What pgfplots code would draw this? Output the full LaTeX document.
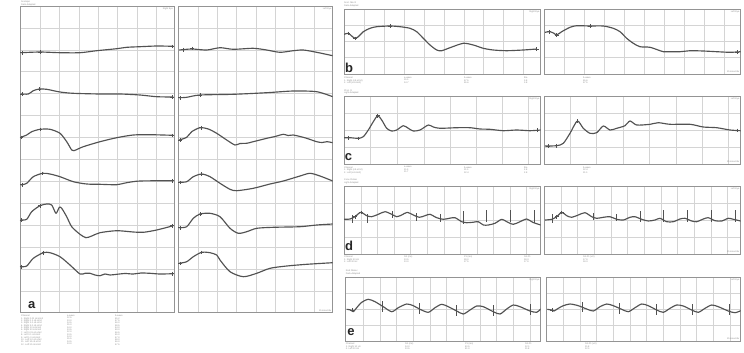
\documentclass[border=0pt]{standalone}
\usepackage{pgfplots}
\pgfplotsset{compat=1.18}
\usepackage{fontspec}
\setmainfont{Liberation Sans}
\definecolor{gridc}{gray}{0.83}
\definecolor{boxc}{gray}{0.58}
\definecolor{trc}{gray}{0.32}
\definecolor{txtc}{gray}{0.55}
\tikzset{
  trace/.style={draw=trc, line width=1.15pt, no markers, smooth, tension=0.45, line join=round},
  cur/.style={only marks, mark=+, mark size=1.8pt, draw=trc, mark options={line width=0.5pt}},
  bars/.style={draw=trc, line width=0.6pt, no markers},
  tiny/.style={font=\fontsize{2.3}{2.35}\selectfont, text=txtc, inner sep=0pt, align=left},
  lab/.style={font=\fontsize{13}{13}\selectfont\bfseries, text=black!85, inner sep=0pt}
}
\pgfplotsset{erg/.style={scale only axis, anchor=north west, y dir=reverse,
  axis line style={draw=boxc, line width=0.6pt},
  xmajorgrids, ymajorgrids, major grid style={draw=gridc, line width=0.5pt},
  major tick length=0pt, xticklabels={}, yticklabels={}, clip=true,
  unbounded coords=jump}}
\begin{document}
\begin{tikzpicture}
\path[use as bounding box] (0,0) rectangle (744pt,-353pt);
% ---------------- panel a, left ----------------
\begin{axis}[erg, at={(20.7pt,-6pt)}, width=154pt, height=306.7pt,
  xmin=20.7, xmax=174.7, ymin=6, ymax=312.7,
  xtick={40,59.3,79,98.3,117.7,137,156.3},
  ytick={28,50,71.7,93.5,115.5,137.3,159.2,181,203,225,247,269,291}]
\addplot[trace] coordinates {(20.7,52.7)(40,52)(60,52.7)(80,52.7)(96.7,50.7)(116.7,48.7)(126.7,47.3)(140,46.7)(156.7,46)(173.3,46.3)};
\addplot[trace] coordinates {(20.7,94)(28.3,94)(33.3,90.7)(39.3,89)(46.7,89.3)(60,92)(73.3,93.3)(100,94)(120,94)(140,95)(156.7,96.7)(173.3,97)};
\addplot[trace] coordinates {(20.7,137.3)(26.7,135)(31.7,131.7)(40,129.3)(50,129.3)(60,133.3)(66.7,141.7)(71.7,150)(74,150.7)(83.3,146.7)(100,141.7)(116.7,137.7)(133.3,135)(150,134.7)(173.3,135.3)};
\addplot[trace] coordinates {(20.7,185)(26.7,183.3)(33.3,176.7)(42.7,173.3)(50,174)(60,176.7)(73.3,181.7)(86.7,184)(100,184.3)(116.7,184.7)(126.7,182.7)(140,181)(173.3,180.7)};
\addplot[trace] coordinates {(20.7,220)(26.7,219.3)(31.7,211.7)(40,205.7)(46.7,204)(51.7,205)(56,213.3)(59.3,207.3)(61.7,208.3)(66.7,216.7)(71.7,226.7)(80,234.3)(86,237.7)(91.7,236)(100,232.7)(116.7,230.7)(133.3,232)(143.3,232.3)(156.7,230)(173.3,225.7)};
\addplot[trace] coordinates {(20.7,266.7)(26.7,266)(33.3,258.3)(43.3,252.7)(50,252.7)(60,256.7)(70,265)(80,274)(85,273.3)(90,273.3)(95,275)(100,275.7)(105,274)(110,275)(116.7,274.3)(125,273.5)(133.3,274)(141,273)(150,273.3)(160,274)(173.3,273.7)};
\addplot[cur] coordinates {(22,52.7)(40,52)(22,94)(39.3,89)(21.5,137.3)(40,129.3)(22,184.7)(42.7,173.3)(21.5,220)(40,205.7)(21.5,266.7)(43.3,252.7)(172,46.3)(172,97)(172,135.3)(172,180.7)(172,225.7)(172,273.7)};
\end{axis}
% ---------------- panel a, right ----------------
\begin{axis}[erg, at={(178pt,-6pt)}, width=154.7pt, height=306.7pt,
  xmin=178, xmax=332.7, ymin=6, ymax=312.7,
  xtick={198,217.3,236.7,256,275.3,294.7,314},
  ytick={28,50,71.7,93.5,115.5,137.3,159.2,181,203,225,247,269,291}]
\addplot[trace] coordinates {(179.3,50)(191.7,49)(206.7,50)(220,47.7)(233.3,49.3)(253.3,48.3)(266.7,50)(280,52.3)(293.3,50.7)(303.3,50)(316.7,52.3)(332.7,55.7)};
\addplot[trace] coordinates {(179.3,97.7)(186.7,97.3)(200,95)(233.3,94.3)(266.7,92.7)(293.3,91)(316.7,91.7)(332.7,96.7)};
\addplot[trace] coordinates {(179.3,140)(186.7,137.3)(191.7,131.7)(200,127.7)(208.3,129)(216.7,133.3)(226.7,140)(235,145)(240,143.5)(246.7,143.3)(252,142)(258,140.5)(266.7,138.3)(275,136.5)(283.3,134.3)(288,135.5)(293.3,135)(300,136.5)(306.7,138.3)(316.7,141.7)(322,142.5)(327,141.7)(332.7,142.7)};
\addplot[trace] coordinates {(179.3,182.3)(186.7,181.7)(193.3,176.7)(201.7,174)(210,176.7)(220,183.3)(230,189.3)(236.7,190.7)(253.3,188.3)(270,184)(283.3,181)(300,176)(310,173.3)(320,176)(332.7,181)};
\addplot[trace] coordinates {(179.3,227.7)(186.7,226.7)(193.3,218.3)(200,214)(210,213.3)(220,216.7)(230,228.3)(238.3,233.3)(246.7,231.7)(256.7,228.3)(273.3,227.3)(300,226.7)(316.7,225)(332.7,224)};
\addplot[trace] coordinates {(179.3,263.3)(186.7,261.7)(193.3,256.7)(201.7,252.3)(210,252.7)(216.7,255)(220,260)(230,271.7)(243.3,276.7)(256.7,273.3)(270,268.3)(286.7,266)(306.7,264.3)(332.7,262.7)};
\addplot[cur] coordinates {(183,49.7)(192,48.5)(180,97.7)(200,95)(180,140)(201,127.7)(180,182.3)(201.7,174)(180,227.7)(200,214)(180,263.3)(201.7,252.3)};
\end{axis}
% ---------------- panel b ----------------
\begin{axis}[erg, at={(344pt,-9pt)}, width=196.7pt, height=65pt,
  xmin=344, xmax=540.7, ymin=9, ymax=74,
  xtick={364.3,384.3,404,424,444,464,483.7,503.3,523.3}, ytick={25,41.3,57.3}]
\addplot[trace] coordinates {(344,34.3)(348.3,33.3)(351.7,36)(355,38.3)(358.3,36.7)(363.3,31.7)(370,28.3)(376.7,26.7)(390,26)(400,26.7)(410,28.3)(416.7,31.7)(423.3,38.3)(430,45)(436.7,50)(441.7,50.7)(450,47.7)(463.3,43.3)(473.3,45)(483.3,48.3)(493.3,50)(506.7,50.7)(523.3,50)(536.7,49)};
\addplot[cur] coordinates {(348,33.3)(355,38.3)(390,26)(536.7,49)};
\end{axis}
\begin{axis}[erg, at={(544.3pt,-9pt)}, width=196.4pt, height=65pt,
  xmin=544.3, xmax=740.7, ymin=9, ymax=74,
  xtick={564,584,604,624,644,664,684,704,724}, ytick={25,41.3,57.3}]
\addplot[trace] coordinates {(545,32.3)(550,31.7)(554,33.3)(556.7,35)(561.7,31.7)(570,27.3)(576.7,25.7)(590,26)(603.3,26)(613.3,28.3)(620,31.7)(626.7,38.3)(633.3,43.3)(640,46.7)(650,47.3)(660,50.7)(663.3,51.7)(680,51.7)(690,50.7)(703.3,51)(716.7,51.7)(730,52.3)(740.7,51.7)};
\addplot[cur] coordinates {(549,31.7)(556.7,35)(590,26)(737,52)};
\end{axis}
% ---------------- panel c ----------------
\begin{axis}[erg, at={(344pt,-96.7pt)}, width=196.7pt, height=67.6pt,
  xmin=344, xmax=540.7, ymin=96.7, ymax=164.3,
  xtick={370.7,397.3,424,450.7,476.7,502.7,528.7}, ytick={113.3,130,147.3}]
\addplot[trace] coordinates {(344,137.7)(350,137.7)(358.3,138.3)(363.3,136.7)(368.3,130)(373.3,121.7)(377.7,115.7)(381.7,120)(386.7,128.3)(391.7,131)(396.7,130)(403.3,125.7)(408.3,128.3)(413.3,131)(420,130)(428.3,125)(433.3,127)(440,128.3)(456.7,127.7)(470,127.7)(480,129)(490,129.3)(503.3,130.7)(516.7,130)(530,130.7)(540.7,130)};
\addplot[cur] coordinates {(348,137.7)(358.3,138.3)(377.7,115.7)(537,130)};
\end{axis}
\begin{axis}[erg, at={(544.3pt,-96.7pt)}, width=196.4pt, height=67.6pt,
  xmin=544.3, xmax=740.7, ymin=96.7, ymax=164.3,
  xtick={570.7,596.7,623.3,649.3,676,702.3,728.3}, ytick={113.3,130,147.3}]
\addplot[trace] coordinates {(545,146)(556.7,145.7)(563.3,143.3)(570,133.3)(577.3,121)(583.3,128.3)(590,133.3)(596.7,132.7)(603.3,126)(610,130)(616.7,128.3)(625,125.7)(630,121)(636.7,125)(650,124.3)(658.3,122.7)(670,124.3)(690,124.3)(703.3,127)(716.7,127.7)(730,130)(740.7,130.7)};
\addplot[cur] coordinates {(548,146)(556.7,145.7)(577.3,121)(737,130.5)};
\end{axis}
% ---------------- panel d ----------------
\begin{axis}[erg, at={(344pt,-186pt)}, width=196.7pt, height=68pt,
  xmin=344, xmax=540.7, ymin=186, ymax=254,
  xtick={361,377.7,394.3,410.7,427.3,444,460.7,477,493.3,510,526.7}, ytick={203,220,237}]
\addplot[trace] coordinates {(344,219.3)(350,219)(355,216.7)(360.7,212.3)(366.7,215.7)(371.7,216.7)(378.3,214.3)(385,211.7)(391.7,214.3)(396.7,216.7)(401.7,215)(407.3,212.3)(413.3,215)(419.3,217.3)(425,215.7)(430,214.3)(436.7,217.7)(443.3,219.3)(449.3,218.3)(455,217.7)(461.7,221.7)(466.7,222.7)(472.7,222.3)(478.3,221.7)(483.3,225)(488.3,225)(495,223.3)(501.7,219.3)(506.7,221.7)(513.3,224.3)(520,221.7)(526.7,219)(532.7,222.3)(540.7,225)};
\addplot[bars] coordinates {(352.7,215)(352.7,223)(352.7,nan)(367.7,214)(367.7,223)(367.7,nan)(392.3,211)(392.3,218)(392.3,nan)(416,213)(416,221)(416,nan)(440,214)(440,222)(440,nan)(463.3,211)(463.3,224)(463.3,nan)(486.7,210)(486.7,222)(486.7,nan)(510,210)(510,222)(510,nan)(534,210)(534,223)};
\addplot[cur] coordinates {(355,216.7)(361,212.3)};
\end{axis}
\begin{axis}[erg, at={(544.3pt,-186pt)}, width=196.4pt, height=68pt,
  xmin=544.3, xmax=740.7, ymin=186, ymax=254,
  xtick={561,577.7,594.3,611,627.7,644.3,661,677.7,694.3,711,727.7}, ytick={203,220,237}]
\addplot[trace] coordinates {(545,220)(551.7,219.3)(556.7,216.7)(561.7,212.3)(566.7,215.7)(571.7,217.3)(578.3,215)(585,212.7)(591.7,216.7)(596.7,218.3)(603.3,217.3)(610,216.7)(616.7,219.3)(623.3,220)(630,217.3)(635,216.7)(641.7,219.3)(648.3,221)(655,220)(660,218.3)(666.7,221.7)(673.3,221.7)(680,219)(685,218.3)(691.7,221)(696.7,221.7)(703.3,219)(708.3,217.7)(715,220.7)(721.7,221)(728.3,218.3)(733.3,219.3)(740.7,221)};
\addplot[bars] coordinates {(552.7,214)(552.7,223)(552.7,nan)(593.3,213)(593.3,220)(593.3,nan)(616.7,214)(616.7,221)(616.7,nan)(640,211)(640,222)(640,nan)(663.3,210)(663.3,222)(663.3,nan)(687.3,210)(687.3,222)(687.3,nan)(711.7,210)(711.7,222)(711.7,nan)(735,210)(735,222)};
\addplot[cur] coordinates {(556.7,216.7)(561.7,212.3)};
\end{axis}
% ---------------- panel e ----------------
\begin{axis}[erg, at={(345.7pt,-277.3pt)}, width=195pt, height=63.7pt,
  xmin=345.7, xmax=540.7, ymin=277.3, ymax=341,
  xtick={363.3,380,396.7,413.3,430,446.7,463.3,480,496.7,513.3,530}, ytick={293.3,309,325}]
\addplot[trace] coordinates {(346.7,309.3)(350.7,310)(353.3,311.7)(356.7,307.7)(361.7,302.3)(368.3,299.3)(375,301.7)(383.3,306.7)(391.7,311.7)(398.3,307.7)(406.7,304)(413.3,305.7)(420,309.3)(428.3,312.3)(435,307.7)(441.7,304.3)(448.3,306.7)(456.7,311)(463.3,314)(470,310)(476.7,306)(483.3,306.7)(493.3,311.7)(500,314)(506.7,309)(513.3,305)(520,306.7)(530,311)(536.7,312.3)(540.7,309)};
\addplot[bars] coordinates {(382.7,301)(382.7,312)(382.7,nan)(419.3,303)(419.3,314)(419.3,nan)(456.7,305)(456.7,316)(456.7,nan)(493.3,305)(493.3,316)(493.3,nan)(530,304)(530,315)};
\addplot[cur] coordinates {(352,310)};
\end{axis}
\begin{axis}[erg, at={(546.7pt,-277.3pt)}, width=194pt, height=63.7pt,
  xmin=546.7, xmax=740.7, ymin=277.3, ymax=341,
  xtick={563.3,580,596.7,613.3,630,646.7,663.3,680,696.7,713.3,730}, ytick={293.3,309,325}]
\addplot[trace] coordinates {(547.3,309.3)(551.7,310)(554,311)(558.3,308.3)(563.3,305.7)(570,304)(578.3,305.7)(586.7,309)(593.3,311)(600,306.7)(606.7,304)(613.3,305.7)(621.7,309.3)(628.3,311.7)(635,307.7)(641.7,304)(648.3,305.7)(656.7,310)(663.3,312.3)(670,308.3)(676.7,305)(683.3,306)(691.7,310)(698.3,312.3)(705,308.3)(711.7,305)(718.3,306.7)(728.3,311)(735,312.7)(740.7,310.7)};
\addplot[bars] coordinates {(582.7,302)(582.7,312)(582.7,nan)(619.3,303)(619.3,314)(619.3,nan)(656,304)(656,315)(656,nan)(692.7,304)(692.7,315)(692.7,nan)(729.3,304)(729.3,315)};
\addplot[cur] coordinates {(552,310)};
\end{axis}
% ---------------- letters ----------------
\node[lab] at (31.7pt,-305pt) {a};
\node[lab] at (349pt,-67.5pt) {b};
\node[lab] at (348.5pt,-157pt) {c};
\node[lab] at (349pt,-245.5pt) {d};
\node[lab] at (351pt,-332pt) {e};
% ---------------- small texts ----------------
\node[tiny, anchor=north west] at (21pt,-1pt) {Scotopic\\Dark-Adapted};
\node[tiny, anchor=north east] at (173pt,-7.5pt) {Right Eye};
\node[tiny, anchor=north east] at (331.5pt,-7.5pt) {Left Eye};
\node[tiny, anchor=south east] at (331.5pt,-311.5pt) {25 msec/div};
\node[tiny, anchor=north west] at (21pt,-315pt) {Channel\\1. Right 0.01 cd.s/m2\\2. Right 0.1 cd.s/m2\\3. Right 1.0 cd.s/m2\\4. Right 3.0 cd.s/m2\\5. Right 10 cd.s/m2\\6. Right 30 cd.s/m2\\7. Left 0.01 cd.s/m2\\8. Left 0.1 cd.s/m2\\9. Left 1.0 cd.s/m2\\10. Left 3.0 cd.s/m2\\11. Left 10 cd.s/m2\\12. Left 30 cd.s/m2};
\node[tiny, anchor=north west] at (67pt,-315pt) {a-wave\\12.5\\13.0\\14.5\\15.0\\14.0\\13.5\\12.0\\13.5\\14.0\\15.5\\14.5\\13.0};
\node[tiny, anchor=north west] at (115pt,-315pt) {b-wave\\45.2\\47.5\\46.0\\48.5\\44.0\\49.0\\46.5\\45.0\\47.0\\48.0\\46.0\\47.5};
% b
\node[tiny, anchor=north west] at (344pt,-2pt) {Scot. Mix R\\Dark-Adapted};
\node[tiny, anchor=north east] at (539.5pt,-10.5pt) {Right Eye};
\node[tiny, anchor=north east] at (739.5pt,-10.5pt) {Left Eye};
\node[tiny, anchor=south east] at (739.5pt,-72.5pt) {25 msec/div};
\node[tiny, anchor=north west] at (344pt,-77pt) {Channel\\1. Right (cd.s/m2)\\2. Left (cd.s/m2)};
\node[tiny, anchor=north west] at (404pt,-77pt) {a-wave\\15.1\\14.7};
\node[tiny, anchor=north west] at (464pt,-77pt) {b-wave\\57.5\\55.6};
\node[tiny, anchor=north west] at (524pt,-77pt) {b/a\\3.8\\3.8};
\node[tiny, anchor=north west] at (583pt,-77pt) {b-wave\\55.6\\57.5};
% c
\node[tiny, anchor=north west] at (344pt,-89.5pt) {Phot. R\\Light-Adapted};
\node[tiny, anchor=north east] at (539.5pt,-98pt) {Right Eye};
\node[tiny, anchor=north east] at (739.5pt,-98pt) {Left Eye};
\node[tiny, anchor=south east] at (739.5pt,-163pt) {25 msec/div};
\node[tiny, anchor=north west] at (344pt,-166.5pt) {Channel\\1. Right (cd.s/m2)\\2. Left (cd.s/m2)};
\node[tiny, anchor=north west] at (404pt,-166.5pt) {a-wave\\11.3\\11.7};
\node[tiny, anchor=north west] at (464pt,-166.5pt) {b-wave\\31.1\\32.4};
\node[tiny, anchor=north west] at (524pt,-166.5pt) {b/a\\2.8\\2.8};
\node[tiny, anchor=north west] at (583pt,-166.5pt) {b-wave\\32.4\\31.1};
% d
\node[tiny, anchor=north west] at (344pt,-179pt) {Cone Flicker\\Light-Adapted};
\node[tiny, anchor=north east] at (539.5pt,-187.5pt) {Right Eye};
\node[tiny, anchor=north east] at (739.5pt,-187.5pt) {Left Eye};
\node[tiny, anchor=south east] at (739.5pt,-252.5pt) {25 msec/div};
\node[tiny, anchor=north west] at (344pt,-256pt) {Channel\\1. Right 30 Hz\\2. Left 30 Hz};
\node[tiny, anchor=north west] at (404pt,-256pt) {N1 (ms)\\13.5\\13.0};
\node[tiny, anchor=north west] at (464pt,-256pt) {P1 (ms)\\28.0\\27.5};
\node[tiny, anchor=north west] at (524pt,-256pt) {N1-P1\\18.3\\17.9};
\node[tiny, anchor=north west] at (583pt,-256pt) {N1-P1 (uV)\\17.9\\18.3};
% e
\node[tiny, anchor=north west] at (345.7pt,-270pt) {Rod Flicker\\Dark-Adapted};
\node[tiny, anchor=north east] at (539.5pt,-279pt) {Right Eye};
\node[tiny, anchor=north east] at (739.5pt,-279pt) {Left Eye};
\node[tiny, anchor=south east] at (739.5pt,-339.5pt) {25 msec/div};
\node[tiny, anchor=north west] at (345.7pt,-343pt) {Channel\\1. Right 10 Hz\\2. Left 10 Hz};
\node[tiny, anchor=north west] at (405pt,-343pt) {N1 (ms)\\14.0\\13.5};
\node[tiny, anchor=north west] at (465pt,-343pt) {P1 (ms)\\40.5\\41.0};
\node[tiny, anchor=north west] at (525pt,-343pt) {N1-P1\\12.1\\11.8};
\node[tiny, anchor=north west] at (585pt,-343pt) {N1-P1 (uV)\\11.8\\12.1};
\end{tikzpicture}
\end{document}
